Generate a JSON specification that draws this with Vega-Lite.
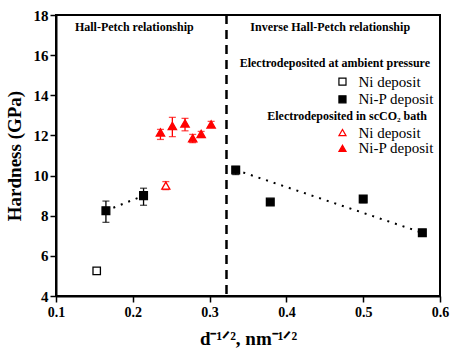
{
  "$schema": "https://vega.github.io/schema/vega-lite/v6.json",
  "autosize": "none",
  "padding": {"left": 56, "top": 15, "right": 12, "bottom": 57},
  "width": 384,
  "height": 281,
  "config": {
    "view": {"stroke": "black", "strokeWidth": 2},
    "font": "Times New Roman, Liberation Serif, serif"
  },
  "datasets": {
    "pts": [
      {"x": 0.153, "y": 5.25, "lo": 5.12, "hi": 5.36, "series": "Ni ambient"},
      {"x": 0.165, "y": 8.25, "lo": 7.67, "hi": 8.73, "series": "NiP ambient"},
      {"x": 0.214, "y": 9.0, "lo": 8.52, "hi": 9.37, "series": "NiP ambient"},
      {"x": 0.334, "y": 10.28, "lo": 10.05, "hi": 10.45, "series": "NiP ambient"},
      {"x": 0.379, "y": 8.68, "lo": 8.6, "hi": 8.76, "series": "NiP ambient"},
      {"x": 0.5, "y": 8.83, "lo": 8.65, "hi": 9.0, "series": "NiP ambient"},
      {"x": 0.577, "y": 7.15, "lo": 7.0, "hi": 7.3, "series": "NiP ambient"},
      {"x": 0.243, "y": 9.5, "lo": 9.3, "hi": 9.7, "series": "Ni scCO2"},
      {"x": 0.236, "y": 12.15, "lo": 11.8, "hi": 12.3, "series": "NiP scCO2"},
      {"x": 0.2515, "y": 12.47, "lo": 11.94, "hi": 12.9, "series": "NiP scCO2"},
      {"x": 0.268, "y": 12.6, "lo": 12.23, "hi": 12.85, "series": "NiP scCO2"},
      {"x": 0.278, "y": 11.86, "lo": 11.64, "hi": 12.05, "series": "NiP scCO2"},
      {"x": 0.289, "y": 12.07, "lo": 11.9, "hi": 12.2, "series": "NiP scCO2"},
      {"x": 0.302, "y": 12.55, "lo": 12.4, "hi": 12.7, "series": "NiP scCO2"}
    ],
    "fits": [
      {"x": 0.165, "y": 8.25, "g": "a"},
      {"x": 0.214, "y": 9.0, "g": "a"},
      {"x": 0.334, "y": 10.28, "g": "b"},
      {"x": 0.577, "y": 7.15, "g": "b"}
    ],
    "legend": [
      {"x": 0.473, "y": 14.68, "label": "Ni deposit", "series": "Ni ambient"},
      {"x": 0.473, "y": 13.8, "label": "Ni-P deposit", "series": "NiP ambient"},
      {"x": 0.473, "y": 12.14, "label": "Ni deposit", "series": "Ni scCO2"},
      {"x": 0.473, "y": 11.36, "label": "Ni-P deposit", "series": "NiP scCO2"}
    ],
    "headers": [
      {"x": 0.587, "y": 15.6, "text": "Electrodeposited at ambient pressure"},
      {"x": 0.583, "y": 12.97, "text": "Electrodeposited in scCO₂ bath"}
    ],
    "regions": [
      {"x": 0.202, "y": 17.4, "text": "Hall-Petch relationship"},
      {"x": 0.457, "y": 17.4, "text": "Inverse Hall-Petch relationship"}
    ],
    "divider": [{"x": 0.322}]
  },
  "layer": [
    {
      "data": {"name": "divider"},
      "mark": {"type": "rule", "color": "black", "strokeWidth": 2.5, "strokeDash": [9, 6]},
      "encoding": {
        "x": {"field": "x", "type": "quantitative", "scale": {"domain": [0.1, 0.6], "nice": false, "zero": false},
          "axis": {
            "values": [0.1, 0.15, 0.2, 0.25, 0.3, 0.35, 0.4, 0.45, 0.5, 0.55, 0.6],
            "labelExpr": "round(datum.value*100) % 10 == 0 ? format(datum.value, '.1f') : ''",
            "tickSize": {"condition": {"test": "round(datum.value*100) % 10 == 0", "value": 6}, "value": 4},
            "domainColor": "black", "domainWidth": 2, "tickColor": "black", "tickWidth": 1.5,
            "grid": false, "labelFont": "Times New Roman, Liberation Serif, serif", "labelFontWeight": "bold", "labelFontSize": 14,
            "labelColor": "black", "labelPadding": 3, "labelFlush": false,
            "title": "d⁻¹ᐟ², nm⁻¹ᐟ²", "titleFont": "Times New Roman, Liberation Serif, serif", "titleFontSize": 19, "titleFontWeight": "bold",
            "titleColor": "black", "titlePadding": 10
          }
        }
      }
    },
    {
      "data": {"name": "fits"},
      "mark": {"type": "line", "color": "black", "strokeWidth": 2, "strokeDash": [2, 6]},
      "encoding": {
        "x": {"field": "x", "type": "quantitative"},
        "y": {"field": "y", "type": "quantitative"},
        "detail": {"field": "g"}
      }
    },
    {
      "data": {"name": "pts"},
      "mark": {"type": "errorbar", "ticks": {"size": 7}, "thickness": 1.3},
      "encoding": {
        "x": {"field": "x", "type": "quantitative"},
        "y": {"field": "lo", "type": "quantitative", "title": "Hardness (GPa)"},
        "y2": {"field": "hi"},
        "color": {"field": "series", "type": "nominal",
          "scale": {"domain": ["Ni ambient", "NiP ambient", "Ni scCO2", "NiP scCO2"], "range": ["black", "black", "#ff0000", "#ff0000"]},
          "legend": null}
      }
    },
    {
      "data": {"name": "pts"},
      "mark": {"type": "point", "strokeWidth": 1.3, "opacity": 1},
      "encoding": {
        "x": {"field": "x", "type": "quantitative"},
        "y": {"field": "y", "type": "quantitative",
          "scale": {"domain": [4, 18], "nice": false, "zero": false},
          "axis": {
            "values": [4, 5, 6, 7, 8, 9, 10, 11, 12, 13, 14, 15, 16, 17, 18],
            "labelExpr": "datum.value % 2 == 0 ? datum.label : ''",
            "tickSize": {"condition": {"test": "datum.value % 2 == 0", "value": 6}, "value": 4},
            "domainColor": "black", "domainWidth": 2, "tickColor": "black", "tickWidth": 1.5,
            "grid": false, "labelFont": "Times New Roman, Liberation Serif, serif", "labelFontWeight": "bold", "labelFontSize": 15,
            "labelColor": "black", "labelPadding": 2, "labelFlush": false,
            "title": "Hardness (GPa)", "titleFont": "Times New Roman, Liberation Serif, serif", "titleFontSize": 19, "titleFontWeight": "bold",
            "titleColor": "black", "titlePadding": 9
          }
        },
        "shape": {"field": "series", "type": "nominal",
          "scale": {"domain": ["Ni ambient", "NiP ambient", "Ni scCO2", "NiP scCO2"], "range": ["square", "square", "triangle-up", "triangle-up"]},
          "legend": null},
        "size": {"field": "series", "type": "nominal",
          "scale": {"domain": ["Ni ambient", "NiP ambient", "Ni scCO2", "NiP scCO2"], "range": [55, 70, 80, 110]},
          "legend": null},
        "stroke": {"field": "series", "type": "nominal",
          "scale": {"domain": ["Ni ambient", "NiP ambient", "Ni scCO2", "NiP scCO2"], "range": ["black", "black", "#ff0000", "#ff0000"]},
          "legend": null},
        "fill": {"field": "series", "type": "nominal",
          "scale": {"domain": ["Ni ambient", "NiP ambient", "Ni scCO2", "NiP scCO2"], "range": ["white", "black", "white", "#ff0000"]},
          "legend": null}
      }
    },
    {
      "data": {"name": "legend"},
      "mark": {"type": "point", "strokeWidth": 1.2, "opacity": 1},
      "encoding": {
        "x": {"field": "x", "type": "quantitative"},
        "y": {"field": "y", "type": "quantitative"},
        "shape": {"field": "series", "type": "nominal", "legend": null},
        "size": {"value": 50},
        "stroke": {"field": "series", "type": "nominal", "legend": null},
        "fill": {"field": "series", "type": "nominal", "legend": null}
      }
    },
    {
      "data": {"name": "legend"},
      "mark": {"type": "text", "align": "left", "baseline": "middle", "dx": 16, "font": "Times New Roman, Liberation Serif, serif", "fontSize": 15, "color": "black"},
      "encoding": {
        "x": {"field": "x", "type": "quantitative"},
        "y": {"field": "y", "type": "quantitative"},
        "text": {"field": "label"}
      }
    },
    {
      "data": {"name": "headers"},
      "mark": {"type": "text", "align": "right", "baseline": "middle", "font": "Times New Roman, Liberation Serif, serif", "fontSize": 12, "fontWeight": "bold", "color": "black", "letterSpacing": 0.5},
      "encoding": {
        "x": {"field": "x", "type": "quantitative"},
        "y": {"field": "y", "type": "quantitative"},
        "text": {"field": "text"}
      }
    },
    {
      "data": {"name": "regions"},
      "mark": {"type": "text", "align": "center", "baseline": "middle", "font": "Times New Roman, Liberation Serif, serif", "fontSize": 12, "fontWeight": "bold", "color": "black", "letterSpacing": 0.4},
      "encoding": {
        "x": {"field": "x", "type": "quantitative"},
        "y": {"field": "y", "type": "quantitative"},
        "text": {"field": "text"}
      }
    }
  ]
}
